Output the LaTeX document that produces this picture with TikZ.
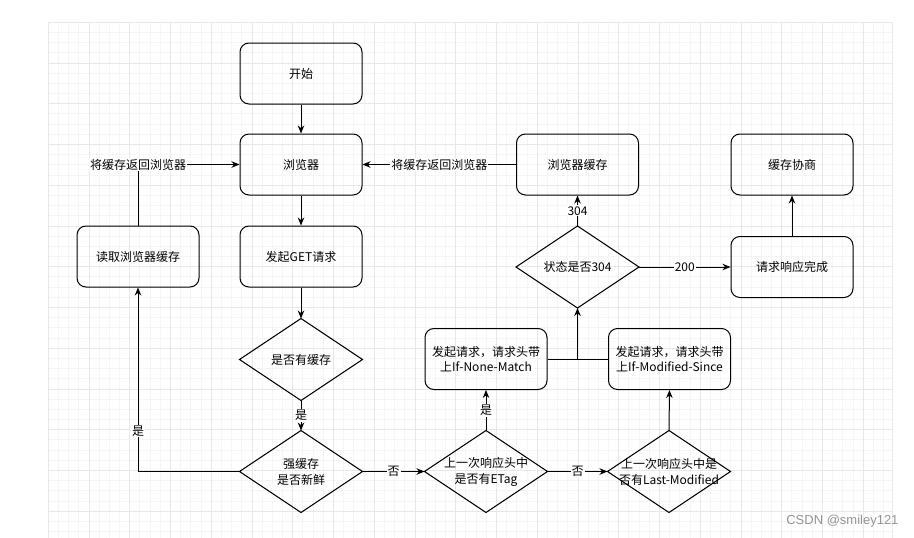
\documentclass[tikz,border=0pt]{standalone}
\usepackage{fontspec}
\setmainfont{Noto Sans CJK SC}
\newfontfamily\markfont{Liberation Sans}
\usetikzlibrary{arrows.meta}

\begin{document}
\begin{tikzpicture}[x=1pt,y=-1pt,line width=1pt,
  box/.style={draw, rounded corners=9pt, minimum width=122pt, minimum height=61pt,
    align=center, font=\fontsize{12}{15}\selectfont},
  decision/.style={minimum width=122pt, minimum height=81pt, inner sep=0pt,
    align=center, font=\fontsize{12}{16}\selectfont},
  link/.style={-{Stealth[length=8pt,width=6.5pt]}},
  tag/.style={fill=white, inner sep=1pt, font=\fontsize{12}{12}\selectfont},
  gridmajor/.style={line width=0.5pt, black!9},
  gridminor/.style={line width=0.4pt, black!4}]

  \useasboundingbox (0,0) rectangle (914,538);

  % background grid
  \foreach \i in {0,...,82}
    \draw[gridminor] ({48+10.1875*\i},22) -- ({48+10.1875*\i},538);
  \foreach \j in {0,...,50}
    \draw[gridminor] (48,{22+10.1875*\j}) -- (892,{22+10.1875*\j});
  \foreach \i in {0,...,20}
    \draw[gridmajor] ({48+40.75*\i},22) -- ({48+40.75*\i},538);
  \foreach \j in {0,...,12}
    \draw[gridmajor] (48,{22+40.75*\j}) -- (892,{22+40.75*\j});
  \draw[gridmajor] (892,22) -- (892,538);

  % main column
  \node[box] (start)     at (301,73.5)  {开始};
  \node[box] (browser)   at (301,164.5) {浏览器};
  \node[box] (getreq)    at (301,256.5) {发起GET请求};
  \node[box] (readcache) at (138,256.5) {读取浏览器缓存};

  % decisions
  \node[decision] (hascache) at (301,359.5) {是否有缓存};
  \node[decision] (fresh)    at (301,471.5) {强缓存\\是否新鲜};
  \node[decision] (etag)     at (486,471.5) {上一次响应头中\\是否有ETag};
  \node[decision] (lastmod)  at (669,471.5) {上一次响应头中是\\否有Last-Modified};
  \node[decision] (check)    at (577.5,267) {状态是否304};
  \foreach \d in {hascache,fresh,etag,lastmod,check}
    \draw (\d.north) -- (\d.east) -- (\d.south) -- (\d.west) -- cycle;

  % conditional requests and results
  \node[box] (nonematch) at (486,359)     {发起请求，请求头带\\上If-None-Match};
  \node[box] (modsince)  at (669.5,359)   {发起请求，请求头带\\上If-Modified-Since};
  \node[box] (cache)     at (577.5,164.5) {浏览器缓存};
  \node[box] (negotiate) at (792,164.5)   {缓存协商};
  \node[box] (done)      at (792,267)     {请求响应完成};

  % connectors
  \draw[link] (start) -- (browser);
  \draw[link] (browser) -- (getreq);
  \draw[link] (getreq) -- (hascache.north);
  \draw[link] (hascache.south) -- node[tag] {是} (fresh.north);
  \draw[link] (fresh.west) -| node[tag, pos=0.61] {是} (readcache.south);
  \draw[link] (readcache.north) |- node[tag] {将缓存返回浏览器} (browser.west);
  \draw[link] (cache.west) -- node[tag] {将缓存返回浏览器} (browser.east);
  \draw[link] (fresh.east) -- node[tag] {否} (etag.west);
  \draw[link] (etag.north) -- node[tag] {是} (nonematch.south);
  \draw[link] (etag.east) -- node[tag] {否} (lastmod.west);
  \draw[link] (lastmod.north) -- (modsince.south);
  \draw (nonematch.east) -- (modsince.west);
  \coordinate (join) at (check.south |- nonematch.east);
  \draw[link] (join) -- (check.south);
  \draw[link] (check.north) -- node[tag] {304} (cache.south);
  \draw[link] (check.east) -- node[tag] {200} (done.west);
  \draw[link] (done) -- (negotiate);

  % watermark
  \node[anchor=east, text=black!42, inner sep=0pt,
    font=\markfont\fontsize{13}{13}\selectfont] (mark) at (899,521) {CSDN @smiley121};

\end{tikzpicture}
\end{document}
